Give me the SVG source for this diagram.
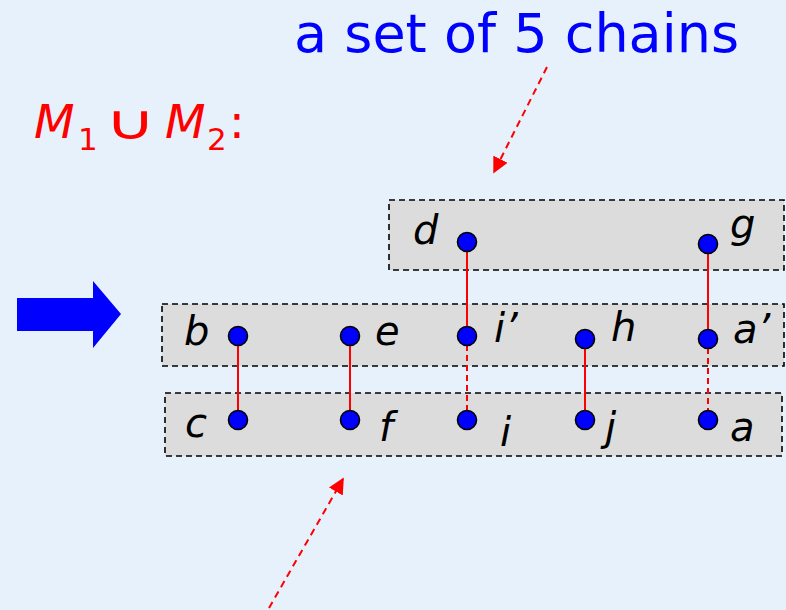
<svg xmlns="http://www.w3.org/2000/svg" width="786" height="610" viewBox="0 0 786 610">
<defs>
<style>
.box{fill:#DCDCDC;stroke:#000;stroke-width:1.6;stroke-dasharray:6,4}
.node{fill:#0000FF;stroke:#000;stroke-width:1.6}
.lbl{font-family:"DejaVu Sans",Verdana,sans-serif;font-style:italic;font-size:40px;fill:#000}
.solid{stroke:#FF0000;stroke-width:2;fill:none}
.dash{stroke:#FF0000;stroke-width:2;fill:none;stroke-dasharray:6,4}
.pointer{stroke:#FF0000;stroke-width:2;fill:none;stroke-dasharray:7,5}
</style>
<marker id="ah" viewBox="0 0 10 10" refX="9" refY="5" markerWidth="8" markerHeight="8" markerUnits="strokeWidth" orient="auto">
<path d="M0,0 L10,5 L0,10 z" fill="#FF0000"/>
</marker>
</defs>
<rect width="786" height="610" fill="#E7F1FB"/>

<text x="294" y="52" font-family="DejaVu Sans,Verdana,sans-serif" font-size="54" fill="#0000FF">a set of 5 chains</text>

<g id="title" font-family="DejaVu Sans,Verdana,sans-serif" fill="#FF0000">
<text x="34" y="138" font-size="47" font-style="italic">M</text>
<text x="78" y="150" font-size="31">1</text>
<text transform="translate(105,139) scale(1.45,1)" x="0" y="0" font-size="48">∪</text>
<text x="165" y="138" font-size="47" font-style="italic">M</text>
<text x="207" y="150" font-size="31">2</text>
<text x="229" y="138" font-size="47">:</text>
</g>

<path id="bigarrow" d="M17,298 L93,298 L93,281 L121,314 L93,348 L93,331 L17,331 z" fill="#0000FF"/>

<g id="boxes">
<rect id="box-top" class="box" x="389" y="200" width="395" height="70"/>
<rect id="box-mid" class="box" x="162" y="304" width="622" height="62"/>
<rect id="box-bot" class="box" x="165" y="393" width="617" height="63"/>
</g>

<g id="connectors">
<line class="solid" x1="467" y1="242" x2="467" y2="336"/>
<line class="solid" x1="708" y1="244" x2="708" y2="339"/>
<line class="solid" x1="238" y1="336" x2="238" y2="420"/>
<line class="solid" x1="350" y1="336" x2="350" y2="420"/>
<line class="solid" x1="585" y1="339" x2="585" y2="420"/>
<line class="dash" x1="467" y1="345" x2="467" y2="410"/>
<line class="dash" x1="708" y1="348" x2="708" y2="411"/>
<line class="pointer" x1="547" y1="67" x2="494" y2="172" marker-end="url(#ah)"/>
<line class="pointer" x1="269" y1="608" x2="343" y2="479" marker-end="url(#ah)"/>
</g>

<g id="node-d"><circle class="node" cx="467" cy="242" r="9.5"/><text class="lbl" x="413" y="244">d</text></g>
<g id="node-g"><circle class="node" cx="708" cy="244" r="9.5"/><text class="lbl" x="730" y="238">g</text></g>
<g id="node-b"><circle class="node" cx="238" cy="336" r="9.5"/><text class="lbl" x="184" y="345">b</text></g>
<g id="node-e"><circle class="node" cx="350" cy="336" r="9.5"/><text class="lbl" x="375" y="345">e</text></g>
<g id="node-i2"><circle class="node" cx="467" cy="336" r="9.5"/><text class="lbl" x="494" y="342">i’</text></g>
<g id="node-h"><circle class="node" cx="585" cy="339" r="9.5"/><text class="lbl" x="611" y="341">h</text></g>
<g id="node-a2"><circle class="node" cx="708" cy="339" r="9.5"/><text class="lbl" x="733" y="343">a’</text></g>
<g id="node-c"><circle class="node" cx="238" cy="420" r="9.5"/><text class="lbl" x="185" y="437">c</text></g>
<g id="node-f"><circle class="node" cx="350" cy="420" r="9.5"/><text class="lbl" x="379" y="441">f</text></g>
<g id="node-i"><circle class="node" cx="467" cy="420" r="9.5"/><text class="lbl" x="500" y="446">i</text></g>
<g id="node-j"><circle class="node" cx="585" cy="420" r="9.5"/><text class="lbl" x="605" y="441">j</text></g>
<g id="node-a"><circle class="node" cx="708" cy="420" r="9.5"/><text class="lbl" x="730" y="441">a</text></g>
</svg>
